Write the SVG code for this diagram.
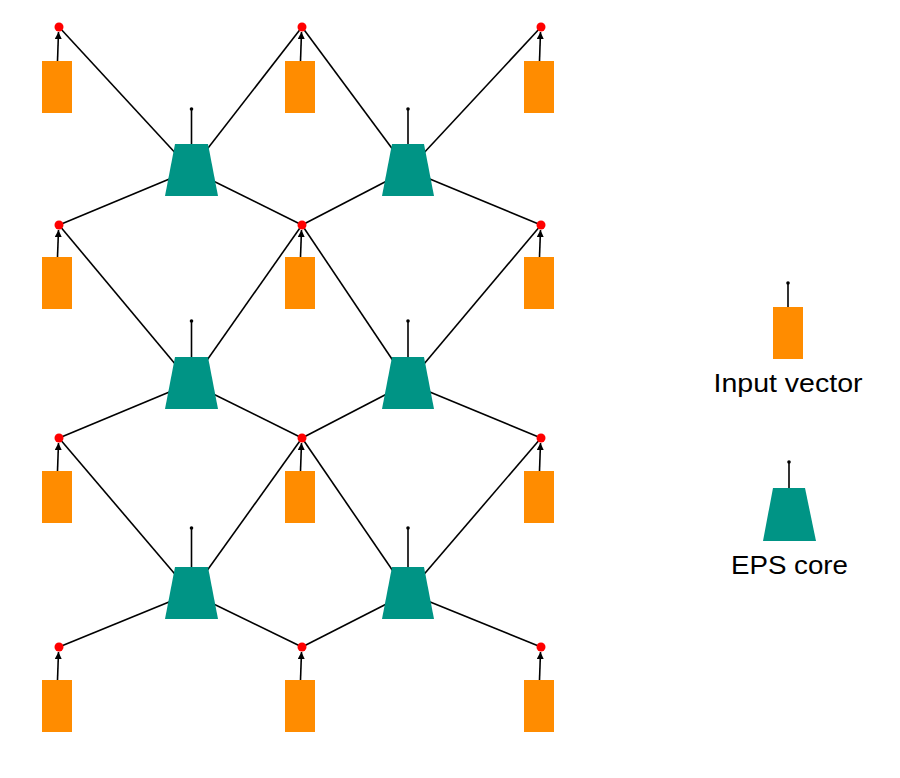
<svg xmlns="http://www.w3.org/2000/svg" width="900" height="778" viewBox="0 0 900 778">
<style>
.in{fill:#FF8C00;}
.core{fill:#009485;}
.dot{fill:#FF0000;}
.edge{stroke:#000;stroke-width:1.6;fill:none;}
.ant{stroke:#000;stroke-width:1.6;}
.arr{stroke:#000;stroke-width:1.6;marker-end:url(#ah);}
.lbl{font-family:"Liberation Sans",Arial,sans-serif;font-size:26px;fill:#000;text-anchor:middle;}
</style>
<defs>
<marker id="ah" viewBox="0 0 10 10" refX="10" refY="5" markerWidth="7" markerHeight="7" markerUnits="userSpaceOnUse" orient="auto">
<path d="M0,0 L10,5 L0,10 z" fill="#000"/>
</marker>
<circle id="tip" r="1.8" fill="#000"/>
</defs>
<rect width="900" height="778" fill="#fff"/>
<g id="connectors">
<line class="edge" x1="59" y1="27" x2="191" y2="170"/>
<line class="edge" x1="302" y1="27" x2="191" y2="170"/>
<line class="edge" x1="59" y1="225" x2="191" y2="170"/>
<line class="edge" x1="302" y1="225" x2="191" y2="170"/>
<line class="edge" x1="302" y1="27" x2="408" y2="170"/>
<line class="edge" x1="541" y1="27" x2="408" y2="170"/>
<line class="edge" x1="302" y1="225" x2="408" y2="170"/>
<line class="edge" x1="541" y1="225" x2="408" y2="170"/>
<line class="edge" x1="59" y1="225" x2="191" y2="383"/>
<line class="edge" x1="302" y1="225" x2="191" y2="383"/>
<line class="edge" x1="59" y1="438" x2="191" y2="383"/>
<line class="edge" x1="302" y1="438" x2="191" y2="383"/>
<line class="edge" x1="302" y1="225" x2="408" y2="383"/>
<line class="edge" x1="541" y1="225" x2="408" y2="383"/>
<line class="edge" x1="302" y1="438" x2="408" y2="383"/>
<line class="edge" x1="541" y1="438" x2="408" y2="383"/>
<line class="edge" x1="59" y1="438" x2="191" y2="593"/>
<line class="edge" x1="302" y1="438" x2="191" y2="593"/>
<line class="edge" x1="59" y1="647" x2="191" y2="593"/>
<line class="edge" x1="302" y1="647" x2="191" y2="593"/>
<line class="edge" x1="302" y1="438" x2="408" y2="593"/>
<line class="edge" x1="541" y1="438" x2="408" y2="593"/>
<line class="edge" x1="302" y1="647" x2="408" y2="593"/>
<line class="edge" x1="541" y1="647" x2="408" y2="593"/>
<line class="arr" x1="57.5" y1="61" x2="58.5" y2="32"/>
<line class="arr" x1="300.5" y1="61" x2="301.5" y2="32"/>
<line class="arr" x1="539.5" y1="61" x2="540.5" y2="32"/>
<line class="arr" x1="57.5" y1="257" x2="58.5" y2="230"/>
<line class="arr" x1="300.5" y1="257" x2="301.5" y2="230"/>
<line class="arr" x1="539.5" y1="257" x2="540.5" y2="230"/>
<line class="arr" x1="57.5" y1="471" x2="58.5" y2="443"/>
<line class="arr" x1="300.5" y1="471" x2="301.5" y2="443"/>
<line class="arr" x1="539.5" y1="471" x2="540.5" y2="443"/>
<line class="arr" x1="57.5" y1="680" x2="58.5" y2="652"/>
<line class="arr" x1="300.5" y1="680" x2="301.5" y2="652"/>
<line class="arr" x1="539.5" y1="680" x2="540.5" y2="652"/>
</g>
<g id="inputs">
<rect class="in" x="42" y="61" width="30" height="52"/>
<rect class="in" x="285" y="61" width="30" height="52"/>
<rect class="in" x="524" y="61" width="30" height="52"/>
<rect class="in" x="42" y="257" width="30" height="52"/>
<rect class="in" x="285" y="257" width="30" height="52"/>
<rect class="in" x="524" y="257" width="30" height="52"/>
<rect class="in" x="42" y="471" width="30" height="52"/>
<rect class="in" x="285" y="471" width="30" height="52"/>
<rect class="in" x="524" y="471" width="30" height="52"/>
<rect class="in" x="42" y="680" width="30" height="52"/>
<rect class="in" x="285" y="680" width="30" height="52"/>
<rect class="in" x="524" y="680" width="30" height="52"/>
</g>
<g id="cores">
<g id="core-1-1"><line class="ant" x1="191.5" y1="144" x2="191.5" y2="109"/><use href="#tip" x="191.5" y="109"/><polygon class="core" points="175,144 208,144 218,196 165,196"/></g>
<g id="core-1-2"><line class="ant" x1="408" y1="144" x2="408" y2="109"/><use href="#tip" x="408" y="109"/><polygon class="core" points="392,144 424,144 434,196 382,196"/></g>
<g id="core-2-1"><line class="ant" x1="191.5" y1="357" x2="191.5" y2="321"/><use href="#tip" x="191.5" y="321"/><polygon class="core" points="175,357 208,357 218,409 165,409"/></g>
<g id="core-2-2"><line class="ant" x1="408" y1="357" x2="408" y2="321"/><use href="#tip" x="408" y="321"/><polygon class="core" points="392,357 424,357 434,409 382,409"/></g>
<g id="core-3-1"><line class="ant" x1="191.5" y1="567" x2="191.5" y2="528"/><use href="#tip" x="191.5" y="528"/><polygon class="core" points="175,567 208,567 218,619 165,619"/></g>
<g id="core-3-2"><line class="ant" x1="408" y1="567" x2="408" y2="528"/><use href="#tip" x="408" y="528"/><polygon class="core" points="392,567 424,567 434,619 382,619"/></g>
</g>
<g id="junctions">
<circle class="dot" cx="59" cy="27" r="4.5"/>
<circle class="dot" cx="302" cy="27" r="4.5"/>
<circle class="dot" cx="541" cy="27" r="4.5"/>
<circle class="dot" cx="59" cy="225" r="4.5"/>
<circle class="dot" cx="302" cy="225" r="4.5"/>
<circle class="dot" cx="541" cy="225" r="4.5"/>
<circle class="dot" cx="59" cy="438" r="4.5"/>
<circle class="dot" cx="302" cy="438" r="4.5"/>
<circle class="dot" cx="541" cy="438" r="4.5"/>
<circle class="dot" cx="59" cy="647" r="4.5"/>
<circle class="dot" cx="302" cy="647" r="4.5"/>
<circle class="dot" cx="541" cy="647" r="4.5"/>
</g>
<g id="legend-input">
<line class="ant" x1="788" y1="307" x2="788" y2="283"/><use href="#tip" x="788" y="283"/>
<rect class="in" x="773" y="307" width="30" height="52"/>
<text class="lbl" x="788" y="392" textLength="149" lengthAdjust="spacingAndGlyphs">Input vector</text>
</g>
<g id="legend-core">
<line class="ant" x1="789" y1="488" x2="789" y2="462"/><use href="#tip" x="789" y="462"/>
<polygon class="core" points="773,488 805,488 816,541 763,541"/>
<text class="lbl" x="789.5" y="574" textLength="117" lengthAdjust="spacingAndGlyphs">EPS core</text>
</g>
</svg>
